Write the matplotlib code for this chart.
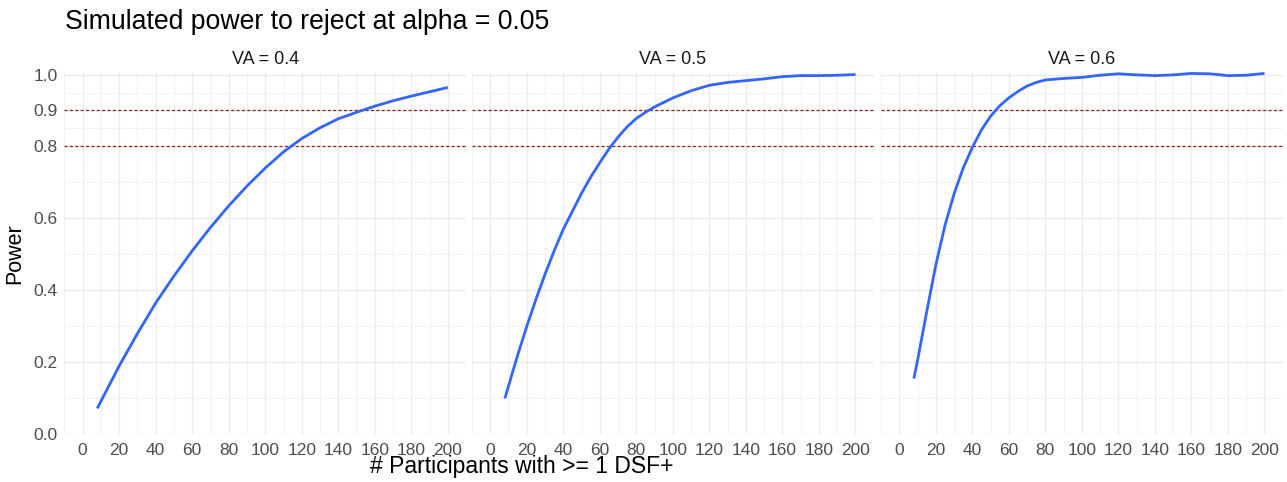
import numpy as np
import matplotlib.pyplot as plt

plt.rcParams['font.family'] = ['Liberation Sans', 'DejaVu Sans']

# --- data ---
va_labels = ["VA = 0.4", "VA = 0.5", "VA = 0.6"]

x_va04 = [8, 20, 30, 40, 50, 60, 70, 80, 90, 100, 110, 120, 130, 140, 150, 160, 170, 180, 190, 200]
y_va04 = [0.072, 0.19, 0.28, 0.365, 0.44, 0.51, 0.575, 0.635, 0.69, 0.74, 0.785, 0.822, 0.852,
          0.877, 0.895, 0.912, 0.927, 0.940, 0.952, 0.964]

x_va05 = [8, 15, 20, 25, 30, 35, 40, 45, 50, 55, 60, 65, 70, 75, 80, 85, 90, 100, 110, 120,
          130, 140, 150, 160, 170, 180, 190, 200]
y_va05 = [0.10, 0.22, 0.30, 0.375, 0.445, 0.51, 0.57, 0.62, 0.67, 0.715, 0.755, 0.793, 0.826,
          0.855, 0.878, 0.895, 0.91, 0.935, 0.955, 0.97, 0.978, 0.983, 0.988, 0.994, 0.997, 0.997,
          0.998, 1.0]

x_va06 = [8, 10, 15, 20, 25, 30, 35, 40, 45, 50, 55, 60, 65, 70, 75, 80, 90, 100, 110, 120, 130,
          140, 150, 160, 170, 180, 190, 200]
y_va06 = [0.155, 0.205, 0.34, 0.47, 0.58, 0.668, 0.74, 0.797, 0.846, 0.884, 0.913, 0.935, 0.953,
          0.968, 0.978, 0.985, 0.989, 0.992, 0.998, 1.002, 0.999, 0.997, 0.999, 1.003, 1.002,
          0.997, 0.998, 1.003]

series = [(x_va04, y_va04), (x_va05, y_va05), (x_va06, y_va06)]

power_lines = [0.8, 0.9]
y_ticks = [0.0, 0.2, 0.4, 0.6, 0.8, 0.9, 1.0]
y_minor = [0.1, 0.3, 0.5, 0.7, 0.85, 0.95]
x_ticks = list(range(0, 201, 20))
x_minor = list(range(-10, 211, 20))

W, H = 1287, 482
fig = plt.figure(figsize=(W / 100, H / 100), dpi=100)

lefts = [64.4, 472.0, 881.0]
pw = 401.7
top, bottom = 72.0, 434.3

for i, (xs, ys) in enumerate(series):
    ax = fig.add_axes([lefts[i] / W, 1 - bottom / H, pw / W, (bottom - top) / H])
    ax.set_xlim(-10, 210)
    ax.set_ylim(0, 1.007)
    for s in ax.spines.values():
        s.set_visible(False)
    ax.set_xticks(x_ticks)
    ax.set_xticks(x_minor, minor=True)
    ax.set_yticks(y_ticks)
    ax.set_yticks(y_minor, minor=True)
    ax.grid(which='major', color='#ebebeb', linewidth=1.0)
    ax.grid(which='minor', color='#f2f2f2', linewidth=0.8)
    ax.set_axisbelow(True)
    ax.tick_params(which='both', length=0, labelsize=12.5, colors='#4d4d4d', pad=6)
    ax.tick_params(axis='y', pad=5)
    if i == 0:
        ax.set_yticklabels([f"{v:.1f}" for v in y_ticks])
        ax.set_ylabel("Power", fontsize=15.5, color='black', labelpad=6)
    else:
        ax.set_yticklabels([])
    for h in power_lines:
        ax.axhline(h, color='#9b1c1c', linestyle=(0, (2.5, 1.8)), linewidth=0.9, zorder=2)
    ax.plot(xs, ys, color='#3366ff', linewidth=2.0, zorder=3, solid_capstyle='butt',
            solid_joinstyle='round')
    ax.set_title(va_labels[i], fontsize=13, color='#1a1a1a', pad=6)

fig.text(65 / W, 1 - 22 / H, "Simulated power to reject at alpha = 0.05", fontsize=19.2,
         ha='left', va='center', color='black')
fig.text(522 / W, 1 - 467 / H, "# Participants with >= 1 DSF+", fontsize=16.5,
         ha='center', va='center', color='black')

fig.savefig("out.png", dpi=100, facecolor='white')
